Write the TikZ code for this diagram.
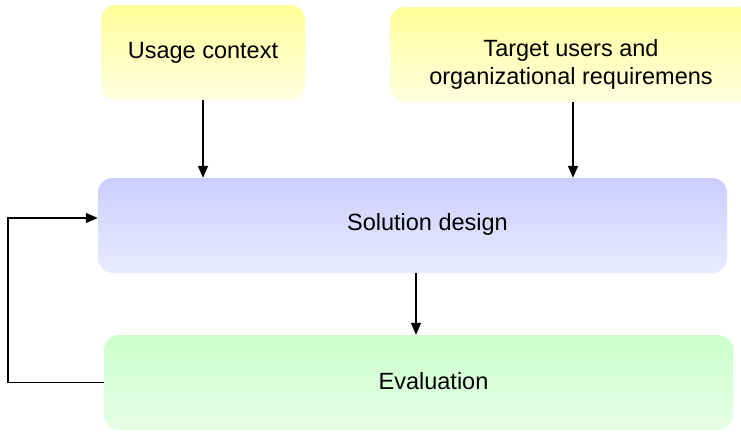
\documentclass[tikz,border=0pt]{standalone}
\usepackage{fontspec}
\setmainfont{Liberation Sans}
\usetikzlibrary{arrows.meta,positioning}
\definecolor{ctxtop}{HTML}{FFFF99}
\definecolor{ctxbot}{HTML}{FFFFE0}
\definecolor{designtop}{HTML}{CCCCFF}
\definecolor{designbot}{HTML}{EBEBFF}
\definecolor{evaltop}{HTML}{CCFFCC}
\definecolor{evalbot}{HTML}{E6FFE6}

\begin{document}
\begin{tikzpicture}[x=1pt,y=-1pt,
    stagebox/.style={rounded corners=15pt,minimum height=95pt,inner sep=0pt,
      font=\fontsize{23.5}{28}\selectfont,align=center},
    boxlabel/.style={font=\fontsize{23.5}{28}\selectfont,align=center,inner sep=0pt},
    flow/.style={-{Triangle[length=12pt,width=10pt]},line width=1.4pt}
  ]
    \useasboundingbox (0,0) rectangle (741,432);
    \node[stagebox,minimum width=204pt,top color=ctxtop,bottom color=ctxbot] (usage) at (203,52.5) {Usage context};
    \node[stagebox,minimum width=362pt,top color=ctxtop,bottom color=ctxbot,
      label={[boxlabel,yshift=-10pt]center:Target users and\\organizational requiremens}] (target) at (571,54.5) {};
    \node[stagebox,minimum width=629pt,top color=designtop,bottom color=designbot,
      label={[boxlabel,xshift=15pt,yshift=1pt]center:Solution design}] (design) at (412.5,225.5) {};
    \node[stagebox,minimum width=629pt,top color=evaltop,bottom color=evalbot,
      label={[boxlabel,xshift=15pt,yshift=1pt]center:Evaluation}] (eval) at (418.5,382.5) {};
    \draw[flow] (usage.south) -- (usage.south |- design.north);
    \draw[flow] ([xshift=2pt]target.south) -- ([xshift=2pt]target.south |- design.north);
    \draw[flow] ([xshift=3.5pt]design.south) -- ([xshift=3.5pt]design.south |- eval.north);
    \draw[flow] (eval.west) -- ++(-96,0) |- ([yshift=7.5pt]design.west);
  \end{tikzpicture}
\end{document}
